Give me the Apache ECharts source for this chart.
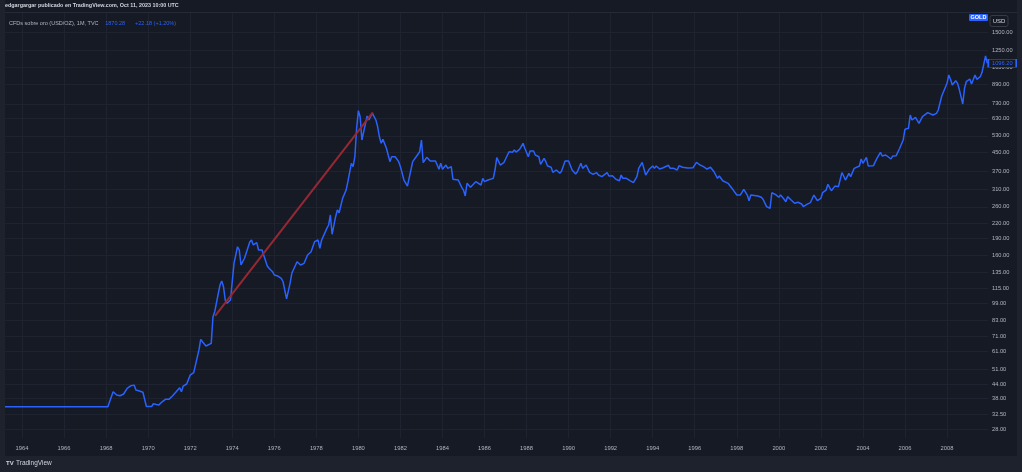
<!DOCTYPE html>
<html><head><meta charset="utf-8">
<script src="https://cdn.jsdelivr.net/npm/echarts@6/dist/echarts.min.js"></script>
<style>html,body{margin:0;padding:0;background:#161a25;overflow:hidden}#c{width:1022px;height:472px}</style>
</head><body><div id="c"></div>
<script>
// Monthly close of gold (USD/oz)
const dates = [
'1963-01','1968-02','1968-03','1968-05','1968-07','1968-08','1968-09','1968-11','1969-01','1969-03','1969-05','1969-06','1969-08','1969-10','1969-12',
'1970-03','1970-04','1970-07','1970-09','1970-11','1971-01','1971-03','1971-04','1971-05','1971-06','1971-07','1971-08','1971-09','1971-10','1971-11','1971-12',
'1972-01','1972-03','1972-04','1972-06','1972-07','1972-08','1972-10','1972-11','1973-01','1973-02','1973-03','1973-04','1973-06','1973-07','1973-08','1973-09','1973-10','1973-12',
'1974-02','1974-04','1974-05','1974-06','1974-08','1974-09','1974-11','1974-12','1975-01','1975-03','1975-04','1975-06','1975-07','1975-09','1975-10','1975-11','1975-12',
'1976-01','1976-03','1976-05','1976-06','1976-08','1976-10','1976-11','1976-12','1977-02','1977-04','1977-06','1977-08','1977-10','1977-12',
'1978-02','1978-03','1978-04','1978-05','1978-07','1978-08','1978-09','1978-10','1978-12','1979-01','1979-02','1979-04','1979-06','1979-07','1979-09','1979-10','1979-11','1979-12',
'1980-01','1980-02','1980-03','1980-04','1980-06','1980-07','1980-08','1980-09','1980-11','1980-12','1981-01','1981-02','1981-03','1981-05','1981-06','1981-07','1981-08','1981-10','1981-12',
'1982-01','1982-03','1982-05','1982-06','1982-08','1982-09','1982-10','1982-12','1983-01','1983-02','1983-04','1983-06','1983-09','1983-10','1983-11','1983-12',
'1984-01','1984-03','1984-04','1984-06','1984-07','1984-08','1984-10','1984-12','1985-01','1985-02','1985-03','1985-05','1985-06','1985-08','1985-11','1985-12',
'1986-01','1986-03','1986-04','1986-06','1986-07','1986-08','1986-10','1986-12','1987-01','1987-03','1987-05','1987-06','1987-07','1987-09','1987-11','1987-12',
'1988-02','1988-03','1988-05','1988-06','1988-08','1988-09','1988-11','1988-12','1989-01','1989-03','1989-04','1989-06','1989-08','1989-09','1989-11','1989-12',
'1990-01','1990-03','1990-05','1990-06','1990-08','1990-09','1990-11','1991-01','1991-03','1991-05','1991-06','1991-08','1991-09','1991-11','1991-12',
'1992-02','1992-04','1992-06','1992-07','1992-08','1992-10','1992-12','1993-02','1993-04','1993-05','1993-06','1993-07','1993-09','1993-11',
'1994-01','1994-02','1994-03','1994-05','1994-07','1994-08','1994-10','1994-11','1995-01','1995-03','1995-04','1995-06','1995-09','1995-12',
'1996-02','1996-04','1996-06','1996-08','1996-10','1996-12','1997-02','1997-03','1997-05','1997-06','1997-08','1997-09','1997-11',
'1998-01','1998-03','1998-05','1998-07','1998-08','1998-09','1998-10','1999-01','1999-03','1999-04','1999-06','1999-08','1999-09','1999-11',
'2000-01','2000-02','2000-04','2000-05','2000-06','2000-08','2000-09','2000-10','2000-12','2001-02','2001-03','2001-05','2001-07','2001-08','2001-09','2001-11',
'2002-01','2002-02','2002-04','2002-05','2002-07','2002-09','2002-11','2003-01','2003-02','2003-03','2003-04','2003-05','2003-06','2003-08','2003-09','2003-11','2003-12',
'2004-01','2004-03','2004-04','2004-05','2004-07','2004-09','2004-11','2004-12','2005-02','2005-03','2005-05','2005-06','2005-08','2005-10','2005-11','2005-12',
'2006-01','2006-03','2006-04','2006-05','2006-07','2006-09','2006-11','2006-12','2007-02','2007-03','2007-05','2007-07','2007-08','2007-10','2007-11',
'2008-01','2008-02','2008-03','2008-04','2008-06','2008-07','2008-08','2008-09','2008-10','2008-11','2008-12','2009-02','2009-03','2009-05','2009-06','2009-08','2009-09','2009-11','2009-12'
];
const prices = [
35,35,35.2,40.7,39.4,40.1,39.1,39.8,42.1,43.2,43.5,41.4,41.0,40.5,35.1,
35.1,36.1,35.6,36.8,37.8,37.8,39.1,39.5,40.7,40.3,42.4,40.7,43.1,43.2,44.0,44.3,
48.1,49.3,49.7,61.9,68.8,67.2,64.4,64.1,66.1,86.4,90.8,92.4,118.7,123.5,116.7,102.1,98.8,102.1,
147.5,174.2,168.6,145.1,155.2,152.5,182.6,186.3,177.3,181.4,168.6,168.6,171.5,143.6,140.3,142.6,135.6,
131.2,129.8,126.9,122.6,103.2,120.7,133.5,134.8,149.9,145.1,147.5,160.3,165.7,183.3,
186.3,171.5,186,185,209.5,216.6,239.5,197.4,235.4,251.7,245,283,307.5,334.5,402.2,388.8,429.6,571.1,
681.6,641.6,508,504.5,646,620.6,641.6,663.8,620.6,580,524.7,491.3,511.6,467.5,459.5,408.7,429.6,429.6,408.7,
388.8,340,320,316,408.7,404.5,429.6,451.6,508,404.5,427,411.5,411.5,395.3,378.6,402.2,
378.6,395.3,382.3,388.8,342.5,349.4,340,316,307.5,289.8,329,316,320,334.5,323.5,345.8,
334.5,340,345.8,345.8,376,425.4,395.3,404.5,408.7,451.6,449,459.5,450,462.6,491.3,467.5,
429.6,455,455,437,429.6,398,422.7,408.7,391.5,386.4,367.3,376,363.8,372.2,411.5,406,
411.5,376,361.2,369.5,402.2,382.3,395.3,367.3,360.2,366,357.5,351.6,357.5,366,354,
355,342.5,337.7,357.5,345.8,345.8,337.7,331,351.6,382.3,378.6,406,357.5,378.6,
391.5,382.3,391.5,379.7,384.7,384.7,394.2,382.3,382.3,376,392.6,386.4,383.7,384.7,
406,395.3,388.8,379.7,386.4,369.5,345.8,354,337.7,342.5,329,326.6,307.5,
292.5,292.5,309.9,292.5,276.4,292.5,294.4,289.8,286,280.3,260.3,256.1,299.4,294.4,
286,292.5,280.3,273.6,287.8,278.4,276.4,269.2,272,267.3,260.3,266.3,270.9,269.2,292.5,276.4,
283,299.4,307.5,325.8,305.4,320,317.9,366,354,340,340,363.8,351.6,382.3,386.4,391.5,419.9,
402.2,427,391.5,395.3,392.6,422.7,449,432.6,437,432.6,419.9,432.6,434,467.5,475,508,
565.7,571,652.6,620.6,637.7,600.5,641.6,652.6,668,674.6,652.6,663.8,686.3,789.4,797.7,
896.7,974.6,933.6,881.4,920.7,896.7,844.4,861.5,728.6,853.2,911.2,936.3,890.6,974.6,933.6,957.9,1001,1179,1096.2
];
// Red trend line drawn on the chart (two anchor points)
const trendDates = ['1973-03', '1980-09'];
const trendValues = [87, 670];
// Price scale ticks and time scale labels
const yTicks = [28, 32.5, 38, 44, 51, 61, 71, 83, 99, 115, 135, 160, 190, 220, 260, 310, 370, 450, 530, 630, 730, 890, 1050, 1250, 1500];
const yearTicks = [1964,1966,1968,1970,1972,1974,1976,1978,1980,1982,1984,1986,1988,1990,1992,1994,1996,1998,2000,2002,2004,2006,2008];
const lastPrice = 1096.20;
const headerText = 'edgargargar publicado en TradingView.com, Oct 11, 2023 10:00 UTC';
const legendName = 'CFDs sobre oro (USD/OZ), 1M, TVC';
const legendValues = ['1870.28', '+22.18 (+1.20%)'];

// 'YYYY-MM' -> fractional year (position of the month start on the time scale)
const toYear = s => { const p = s.split('-'); return +p[0] + (+p[1] - 1) / 12; };

const chart = echarts.init(document.getElementById('c'), null, {renderer: 'canvas'});
const lineData = dates.map((d, i) => [toYear(d), prices[i]]);
const trendData = trendDates.map((d, i) => [toYear(d) + 0.02, trendValues[i]]);
const FONT = 'Liberation Sans';

chart.setOption({
  animation: false,
  backgroundColor: '#161a25',
  textStyle: {fontFamily: FONT},
  grid: {left: 5, right: 34, top: 12, bottom: 34, containLabel: false},
  xAxis: {
    type: 'value',
    min: 1963.19,
    max: 2009.95,
    axisLine: {show: false},
    axisTick: {show: false, customValues: yearTicks},
    axisLabel: {
      customValues: yearTicks,
      color: '#b2b5be', fontSize: 5.8, margin: 7, fontFamily: FONT,
      formatter: v => String(v)
    },
    splitLine: {show: true, lineStyle: {color: '#1f2330', width: 1}}
  },
  yAxis: {
    type: 'log',
    logBase: 10,
    position: 'right',
    min: 25.6,
    max: 1833,
    axisLine: {show: false},
    axisTick: {show: false, customValues: yTicks},
    axisLabel: {
      customValues: yTicks,
      color: '#b2b5be', fontSize: 5.7, margin: 4, align: 'left', fontFamily: FONT,
      formatter: v => Number(v).toFixed(2)
    },
    splitLine: {show: true, lineStyle: {color: '#1f2330', width: 1}}
  },
  series: [
    {
      type: 'line', data: lineData, showSymbol: false, clip: true,
      lineStyle: {color: '#2962ff', width: 1.5}, z: 3,
      markPoint: {
        silent: true,
        symbol: 'rect', symbolSize: [28, 8], symbolOffset: [15, 0],
        itemStyle: {color: '#161a25', borderColor: '#2962ff', borderWidth: 1},
        label: {show: true, position: 'inside', color: '#2962ff', fontSize: 5.7, fontFamily: FONT,
          formatter: () => lastPrice.toFixed(2)},
        data: [{coord: [lineData[lineData.length - 1][0], lastPrice]}]
      }
    },
    {
      type: 'line', data: trendData, showSymbol: false, clip: true,
      lineStyle: {color: '#962833', width: 2}, z: 4
    }
  ],
  graphic: [
    {type: 'rect', shape: {x: 0, y: 0, width: 5, height: 472}, style: {fill: '#1e222d'}, z: 10},
    {type: 'rect', shape: {x: 1017, y: 0, width: 5, height: 472}, style: {fill: '#1e222d'}, z: 10},
    {type: 'rect', shape: {x: 0, y: 456, width: 1022, height: 16}, style: {fill: '#1e222d'}, z: 10},
    {type: 'line', shape: {x1: 5, y1: 12.5, x2: 1017, y2: 12.5}, style: {stroke: '#262a36', lineWidth: 1}, z: 10},
    {type: 'text', x: 5, y: 3, style: {text: headerText, fill: '#d1d4dc', font: 'bold 5.4px ' + FONT}, z: 10},
    {type: 'text', x: 9, y: 17, style: {
      text: '{a|' + legendName + '}  {b|' + legendValues[0] + '}   {b|' + legendValues[1] + '}',
      rich: {a: {fill: '#b2b5be', fontSize: 5.5, fontFamily: FONT}, b: {fill: '#2962ff', fontSize: 5.5, fontFamily: FONT}}
    }, z: 10},
    {type: 'rect', shape: {x: 969, y: 14, width: 19, height: 7, r: 1}, style: {fill: '#2962ff'}, z: 10},
    {type: 'text', x: 978.5, y: 17.5, style: {text: 'GOLD', fill: '#ffffff', font: 'bold 5.5px ' + FONT, align: 'center', verticalAlign: 'middle'}, z: 11},
    {type: 'rect', shape: {x: 990, y: 15.5, width: 18, height: 11, r: 2}, style: {fill: '#161a25', stroke: '#363a45', lineWidth: 1}, z: 10},
    {type: 'text', x: 999, y: 21, style: {text: 'USD', fill: '#d1d4dc', font: '6px ' + FONT, align: 'center', verticalAlign: 'middle'}, z: 11},
    {type: 'text', x: 6, y: 460, style: {text: 'TV', fill: '#d1d4dc', font: 'bold 6px ' + FONT}, z: 11},
    {type: 'text', x: 16, y: 460, style: {text: 'TradingView', fill: '#d1d4dc', font: '6.5px ' + FONT}, z: 11}
  ]
});
</script></body></html>
